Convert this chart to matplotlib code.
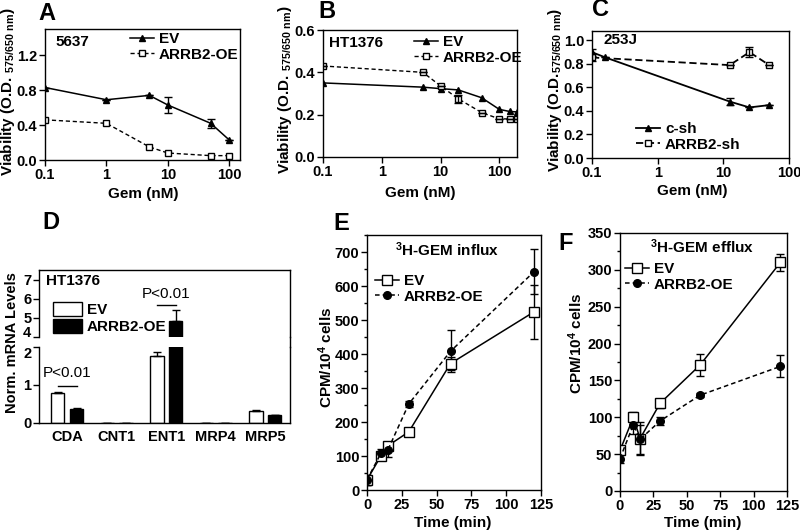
import matplotlib

matplotlib.use("Agg")
import matplotlib.pyplot as plt
from matplotlib.lines import Line2D
from matplotlib.patches import Patch

plt.rcParams["font.family"] = ["Liberation Sans", "DejaVu Sans"]
plt.rcParams["font.weight"] = "bold"
plt.rcParams["font.size"] = 11
plt.rcParams["xtick.labelsize"] = 10.5
plt.rcParams["ytick.labelsize"] = 10.5
plt.rcParams["mathtext.fontset"] = "custom"
plt.rcParams["mathtext.rm"] = "Liberation Sans:bold"
plt.rcParams["mathtext.default"] = "rm"
plt.rcParams["axes.linewidth"] = 1.0
plt.rcParams["xtick.major.width"] = 1.0
plt.rcParams["ytick.major.width"] = 1.0
plt.rcParams["xtick.major.size"] = 4
plt.rcParams["ytick.major.size"] = 4
plt.rcParams["xtick.major.pad"] = 2
plt.rcParams["ytick.major.pad"] = 1.5

# --- data -------------------------------------------------------------
# A: 5637
gem_a = [0.1, 1, 5, 10, 50, 100]
a_ev = [0.83, 0.69, 0.74, 0.63, 0.42, 0.23]
a_ev_err = [0, 0, 0, 0.095, 0.05, 0]
a_oe = [0.46, 0.42, 0.15, 0.08, 0.05, 0.05]

# B: HT1376
gem_b = [0.1, 5, 10, 20, 50, 100, 150, 200]
b_ev = [0.35, 0.33, 0.323, 0.317, 0.28, 0.225, 0.215, 0.213]
b_oe = [0.43, 0.40, 0.336, 0.275, 0.21, 0.18, 0.18, 0.18]
b_oe_err = [0, 0, 0, 0.02, 0, 0, 0, 0]

# C: 253J
gem_c_sh = [0.1, 0.16, 12.5, 25, 50]
c_sh = [0.90, 0.855, 0.48, 0.43, 0.45]
c_sh_err = [0.03, 0, 0.03, 0, 0]
gem_c_arrb = [0.1, 12.5, 25, 50]
c_arrb = [0.855, 0.79, 0.90, 0.79]
c_arrb_err = [0.03, 0, 0.04, 0]

# D: mRNA levels
genes = ["CDA", "CNT1", "ENT1", "MRP4", "MRP5"]
d_ev = [0.78, 0.01, 1.76, 0.01, 0.32]
d_ev_err = [0.04, 0, 0.1, 0, 0.01]
d_oe = [0.375, 0.005, 4.85, 0.01, 0.2]
d_oe_err = [0.02, 0, 0.55, 0, 0.02]

# E / F: uptake time course
time_min = [0, 10, 15, 30, 60, 120]
e_ev = [30, 100, 130, 171, 372, 524]
e_ev_err = [15, 10, 10, 5, 20, 80]
e_oe = [30, 108, 118, 253, 408, 642]
e_oe_err = [14, 12, 20, 10, 62, 66]
f_ev = [55, 100, 71, 119, 171, 310]
f_ev_err = [6, 7, 22, 6, 15, 11]
f_oe = [44, 90, 70, 95, 130, 169]
f_oe_err = [6, 12, 20, 6, 3, 15]

W, H = 800, 532
fig = plt.figure(figsize=(8, 5.32), dpi=100)

DASH = (0, (3, 2))


def px_axes(left, top, right, bottom):
    return fig.add_axes([left / W, 1 - bottom / H, (right - left) / W, (bottom - top) / H])


def ftext(x, y, s, **kw):
    fig.text(x / W, 1 - y / H, s, **kw)


def draw_series(ax, x, y, err, marker, ls, fill, ms=5, label=None):
    ax.errorbar(x, y, yerr=err, color="black", ls=ls, lw=1.1, marker=marker, ms=ms,
                mfc="black" if fill else "white", mec="black", mew=1.0,
                capsize=3, elinewidth=1.0, capthick=1.0, label=label)


def log_axis(ax, xlim, ticks, labels):
    ax.set_xscale("log")
    ax.set_xlim(*xlim)
    ax.set_xticks(ticks)
    ax.set_xticklabels(labels)
    ax.minorticks_off()


def line_legend(ax, loc_px, fontsize=11):
    h, l = ax.get_legend_handles_labels()
    h = [hh[0] if isinstance(hh, tuple) else hh for hh in h]
    ax.legend(h, l, loc="upper left", bbox_to_anchor=(loc_px[0] / W, 1 - loc_px[1] / H),
              bbox_transform=fig.transFigure, frameon=False, handlelength=1.6,
              handletextpad=0.3, labelspacing=0.1, borderpad=0, borderaxespad=0,
              fontsize=fontsize)


# --- A ---
axA = px_axes(45, 29, 240, 160)
axA.plot(gem_a, a_ev, color="black", lw=1.1, marker="^", ms=4, label="EV")
axA.errorbar(gem_a, a_ev, yerr=a_ev_err, fmt="none", ecolor="black", capsize=3, elinewidth=1.0)
axA.plot(gem_a, a_oe, color="black", lw=1.0, ls=DASH, marker="s", ms=4.5,
         mfc="white", mec="black", label="ARRB2-OE")
log_axis(axA, (0.1, 150), [0.1, 1, 10, 100], ["0.1", "1", "10", "100"])
axA.set_ylim(0, 1.5)
axA.set_yticks([0.0, 0.4, 0.8, 1.2])
axA.set_yticklabels(["0.0", "0.4", "0.8", "1.2"])
line_legend(axA, (130, 32))
ftext(55, 42, "5637", va="center")
ftext(143, 194, "Gem (nM)", ha="center", va="center")
ftext(8, 92, "Viability (O.D. $_{575/650\\ nm}$)", rotation=90, ha="center", va="center")
ftext(38, 14, "A", fontsize=17, va="center")

# --- B ---
axB = px_axes(323, 30, 517, 157)
axB.plot(gem_b, b_ev, color="black", lw=1.1, marker="^", ms=4, label="EV")
axB.plot(gem_b, b_oe, color="black", lw=1.0, ls=DASH, marker="s", ms=4.5,
         mfc="white", mec="black", label="ARRB2-OE")
axB.errorbar(gem_b, b_oe, yerr=b_oe_err, fmt="none", ecolor="black", capsize=3, elinewidth=1.0)
log_axis(axB, (0.1, 200), [0.1, 1, 10, 100], ["0.1", "1", "10", "100"])
axB.set_ylim(0, 0.6)
axB.set_yticks([0.0, 0.2, 0.4, 0.6])
axB.set_yticklabels(["0.0", "0.2", "0.4", "0.6"])
line_legend(axB, (414, 35))
ftext(329, 43, "HT1376", va="center")
ftext(420, 193, "Gem (nM)", ha="center", va="center")
ftext(285, 90, "Viability (O.D. $_{575/650\\ nm}$)", rotation=90, ha="center", va="center")
ftext(318, 12, "B", fontsize=17, va="center")

# --- C ---
axC = px_axes(592, 31, 789, 158)
axC.plot(gem_c_sh, c_sh, color="black", lw=1.3, marker="^", ms=4, label="c-sh")
axC.errorbar(gem_c_sh, c_sh, yerr=c_sh_err, fmt="none", ecolor="black", capsize=3, elinewidth=1.0)
axC.plot(gem_c_arrb, c_arrb, color="black", lw=1.3, ls=(0, (4, 2)), marker="s", ms=4.5,
         mfc="white", mec="black", label="ARRB2-sh")
axC.errorbar(gem_c_arrb, c_arrb, yerr=c_arrb_err, fmt="none", ecolor="black", capsize=3, elinewidth=1.0)
log_axis(axC, (0.1, 100), [0.1, 1, 10, 100], ["0.1", "1", "10", "100"])
axC.set_ylim(0, 1.08)
axC.set_yticks([0.0, 0.2, 0.4, 0.6, 0.8, 1.0])
axC.set_yticklabels(["0.0", "0.2", "0.4", "0.6", "0.8", "1.0"])
line_legend(axC, (636, 122))
ftext(604, 40, "253J", va="center")
ftext(692, 191, "Gem (nM)", ha="center", va="center")
ftext(555, 90, "Viability (O.D.$_{575/650\\ nm}$)", rotation=90, ha="center", va="center")
ftext(592, 10, "C", fontsize=17, va="center")

# --- D (broken y axis) ---
axD_lo = px_axes(39, 346.7, 290, 423)
axD_hi = px_axes(39, 270, 290, 336.7)
xpos = list(range(len(genes)))
off, bw = 0.19, 0.27
for ax in (axD_lo, axD_hi):
    ax.bar([x - off for x in xpos], d_ev, width=bw, color="white", edgecolor="black", lw=1.0)
    ax.bar([x + off for x in xpos], d_oe, width=bw, color="black", edgecolor="black", lw=1.0)
    ax.errorbar([x - off for x in xpos], d_ev, yerr=[[0] * len(d_ev), d_ev_err], fmt="none",
                ecolor="black", capsize=3, elinewidth=1.0)
    ax.errorbar([x + off for x in xpos], d_oe, yerr=[[0] * len(d_oe), d_oe_err], fmt="none",
                ecolor="black", capsize=3, elinewidth=1.0)
    ax.set_xlim(-0.57, 4.5)
axD_lo.set_ylim(0, 2)
axD_lo.set_yticks([0, 1, 2])
axD_lo.set_xticks(xpos)
axD_lo.set_xticklabels(genes)
axD_lo.tick_params(axis="x", length=0, pad=5)
axD_lo.spines["top"].set_visible(False)
axD_hi.set_ylim(4, 7.5)
axD_hi.set_yticks([4, 5, 6, 7])
axD_hi.set_xticks([])
axD_hi.spines["bottom"].set_visible(False)
# keep the labels either side of the break apart
axD_lo.get_yticklabels()[-1].set_va("top")
axD_hi.get_yticklabels()[0].set_va("baseline")
fig.add_artist(Line2D([290 / W, 290 / W], [1 - 336.7 / H, 1 - 346.7 / H],
                      color="black", lw=1.0, transform=fig.transFigure))
# significance bars
axD_lo.plot([0 - off, 0 + off], [0.97, 0.97], color="black", lw=1.0)
axD_lo.text(0, 1.12, "P<0.01", ha="center", va="bottom", fontweight="normal")
axD_hi.plot([2 - off, 2 + off], [5.68, 5.68], color="black", lw=1.0)
axD_hi.text(2, 5.85, "P<0.01", ha="center", va="bottom", fontweight="normal")
axD_hi.legend([Patch(facecolor="white", edgecolor="black"), Patch(facecolor="black", edgecolor="black")],
              ["EV", "ARRB2-OE"], loc="upper left", bbox_to_anchor=(53 / W, 1 - 302 / H),
              bbox_transform=fig.transFigure, frameon=False, handlelength=1.9, handleheight=1.0,
              handletextpad=0.3, labelspacing=0.15, borderpad=0, borderaxespad=0, fontsize=11)
ftext(46, 281, "HT1376", va="center")
ftext(12, 343, "Norm. mRNA Levels", fontsize=10.5, rotation=90, ha="center", va="center")
ftext(42, 222, "D", fontsize=17, va="center")

# --- E ---
axE = px_axes(367, 235, 541, 490)
draw_series(axE, time_min, e_ev, e_ev_err, "s", "-", False, ms=6.5, label="EV")
draw_series(axE, time_min, e_oe, e_oe_err, "o", DASH, True, ms=5.5, label="ARRB2-OE")
axE.set_xlim(0, 125)
axE.set_xticks([0, 25, 50, 75, 100, 125])
axE.set_ylim(0, 750)
axE.set_yticks(range(0, 701, 100))
axE.set_yticks(range(50, 751, 100), minor=True)
axE.tick_params(axis="y", which="minor", length=2.5, width=1.0)
line_legend(axE, (375, 274))
ftext(447, 250, "$^3$H-GEM influx", ha="center", va="center")
ftext(453, 523, "Time (min)", ha="center", va="center")
ftext(326, 357, "CPM/10$^4$ cells", rotation=90, ha="center", va="center")
ftext(333, 223, "E", fontsize=17, va="center")

# --- F ---
axF = px_axes(620, 233, 787, 491)
draw_series(axF, time_min, f_ev, f_ev_err, "s", "-", False, ms=6.5, label="EV")
draw_series(axF, time_min, f_oe, f_oe_err, "o", DASH, True, ms=5.5, label="ARRB2-OE")
axF.set_xlim(0, 125)
axF.set_xticks([0, 25, 50, 75, 100, 125])
axF.set_ylim(0, 350)
axF.set_yticks(range(0, 351, 50))
axF.set_yticks(range(25, 351, 50), minor=True)
axF.tick_params(axis="y", which="minor", length=2.5, width=1.0)
line_legend(axF, (625, 262))
ftext(702, 247, "$^3$H-GEM efflux", ha="center", va="center")
ftext(703, 523, "Time (min)", ha="center", va="center")
ftext(576, 343, "CPM/10$^4$ cells", rotation=90, ha="center", va="center")
ftext(558, 244, "F", fontsize=17, va="center")

fig.savefig("out.png", dpi=100)
